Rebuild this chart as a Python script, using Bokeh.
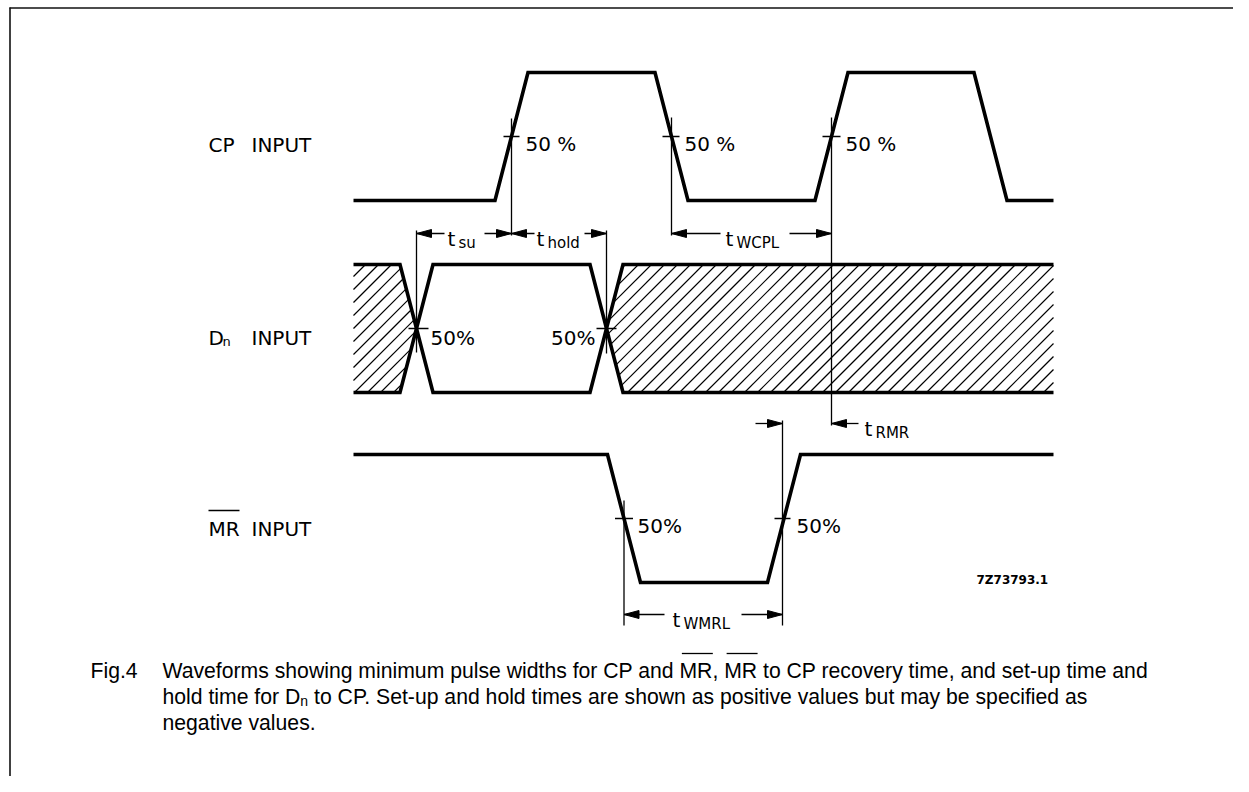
from bokeh.plotting import figure
from bokeh.models import Range1d
from bokeh.embed import file_html
from bokeh.resources import INLINE
from bokeh.core.properties import value

# ---------------- data (diagram time units / logic levels) ----------------
t_start, t_end = 353, 1053
edge_time = 33                       # rise / fall time of every edge
cp_edges = [511, 671, 831, 990]      # 50 % crossing times of CP
cp_init = 0
d_edges = [416, 606]                 # data-valid window (50 % crossings)
mr_edges = [623.5, 783.5]            # 50 % crossing times of MR
mr_init = 1

row_names = ["CP", "D", "MR"]
row_low = [200, 392, 582]            # screen level of logic 0 of each row
amp = 128                            # logic swing on screen

cp_pct = "50 %"
pct = "50%"
drawing_code = "7Z73793.1"
caption_fig = "Fig.4"
caption_1 = "Waveforms showing minimum pulse widths for CP and MR, MR to CP recovery time, and set-up time and"
caption_2a = "hold time for D"
caption_2b = "n"
caption_2c = "to CP. Set-up and hold times are shown as positive values but may be specified as"
caption_3 = "negative values."

FONT = value("DejaVu Sans")
CAPF = value("Liberation Sans")

# Arial / Liberation Sans advance widths (1/1000 em)
AW = {' ': 278, ',': 278, '-': 333, '.': 278, '4': 556, 'A': 667, 'C': 722, 'D': 722, 'F': 611,
      'M': 833, 'P': 667, 'R': 722, 'S': 667, 'W': 944, 'a': 556, 'b': 556, 'c': 500, 'd': 556,
      'e': 556, 'f': 278, 'g': 556, 'h': 556, 'i': 222, 'k': 500, 'l': 222, 'm': 833, 'n': 556,
      'o': 556, 'p': 556, 'r': 333, 's': 500, 't': 278, 'u': 556, 'v': 500, 'w': 722, 'y': 500}


def tw(s, size):
    return sum(AW.get(c, 556) for c in s) * size / 1000.0


def wave(edges, init):
    xs, lv, cur = [t_start], [init], init
    for e in edges:
        xs += [e - edge_time / 2, e + edge_time / 2]
        lv += [cur, 1 - cur]
        cur = 1 - cur
    xs.append(t_end)
    lv.append(cur)
    return xs, lv


def ys(row, levels):
    return [row_low[row] - l * amp for l in levels]


def inside(px, py, x, y):
    n = len(px)
    sgn = 0
    for i in range(n):
        ax, ay, bx, by = px[i], py[i], px[(i + 1) % n], py[(i + 1) % n]
        cr = (bx - ax) * (y - ay) - (by - ay) * (x - ax)
        if abs(cr) < 1e-9:
            continue
        s = 1 if cr > 0 else -1
        if sgn == 0:
            sgn = s
        elif s != sgn:
            return False
    return True


def hatch(px, py, spacing, phase=0.0):
    """45-degree '/' hatch lines (x + y = c) clipped to a convex polygon."""
    x0s, y0s, x1s, y1s = [], [], [], []
    lo = min(a + b for a, b in zip(px, py))
    hi = max(a + b for a, b in zip(px, py))
    c = lo - ((lo - phase) % spacing) + spacing
    ymin, ymax = min(py), max(py)
    while c < hi:
        hit = []
        y = ymin
        while y <= ymax + 1e-9:
            if inside(px, py, c - y, y):
                hit.append(y)
            y += 0.2
        if hit:
            x0s.append(c - hit[0]); y0s.append(hit[0])
            x1s.append(c - hit[-1]); y1s.append(hit[-1])
        c += spacing
    return x0s, y0s, x1s, y1s


W_, H_ = 1233, 776
p = figure(width=W_, height=H_, x_range=Range1d(0, W_), y_range=Range1d(H_, 0),
           output_backend="svg", toolbar_location=None, min_border=0,
           x_axis_type=None, y_axis_type=None, outline_line_color=None)
p.background_fill_color = "white"
p.border_fill_color = "white"

# frame (top and left edges)
p.segment(x0=[9, 9.5], y0=[7.5, 7], x1=[W_, 9.5], y1=[7.5, H_], line_color="#111", line_width=1.6)

# hatched "don't care" areas of D
e1, e2 = d_edges
h = edge_time / 2
polys_x = [[t_start, e1 - h, e1, e1 - h, t_start], [e2, e2 + h, t_end, t_end, e2 + h]]
polys_y = [ys(1, [1, 1, .5, 0, 0]), ys(1, [.5, 1, 1, 0, 0])]
hx0, hy0, hx1, hy1 = [], [], [], []
for px_, py_ in zip(polys_x, polys_y):
    a, b, c_, d_ = hatch(px_, py_, 13.0, phase=5.0)
    hx0 += a; hy0 += b; hx1 += c_; hy1 += d_
p.segment(x0=hx0, y0=hy0, x1=hx1, y1=hy1, line_color="black", line_width=1.15)

# waveforms
cx, cl = wave(cp_edges, cp_init)
dtx, dtl = wave(d_edges, 1)
dbx, dbl = wave(d_edges, 0)
mx, ml = wave(mr_edges, mr_init)
p.multi_line([cx, dtx, dbx, mx], [ys(0, cl), ys(1, dtl), ys(1, dbl), ys(2, ml)],
             line_color="black", line_width=3.6, line_join="miter")

# vertical reference lines at 50 % points
c_mid = [row_low[i] - amp / 2 for i in range(3)]
vx = [cp_edges[0], cp_edges[1], cp_edges[2], d_edges[0], d_edges[1], mr_edges[0], mr_edges[1] - 1.5]
vy0 = [118, 117, 117, 230, 230, 500, 420]
vy1 = [235, 235, 425, 352, 353, 625, 625]
p.segment(x0=vx, y0=vy0, x1=vx, y1=vy1, line_color="black", line_width=1.3)

# 50 % tick marks
tx0 = [cp_edges[0] - 8, cp_edges[1] - 9, cp_edges[2] - 9, d_edges[0] - 8, d_edges[1] - 10,
       mr_edges[0] - 9, mr_edges[1] - 9.5]
tx1 = [cp_edges[0] + 8, cp_edges[1] + 8, cp_edges[2] + 9, d_edges[0] + 12, d_edges[1] + 10,
       mr_edges[0] + 9, mr_edges[1] + 6.5]
ty = [c_mid[0]] * 3 + [c_mid[1]] * 2 + [c_mid[2]] * 2
p.segment(x0=tx0, y0=ty, x1=tx1, y1=ty, line_color="black", line_width=1.5)

# percentage texts
p.text(x=[cp_edges[0] + 14, cp_edges[1] + 13, cp_edges[2] + 14], y=[c_mid[0] + 7] * 3,
       text=[cp_pct] * 3, text_font=FONT, text_font_size="20px", text_color="black",
       text_baseline="alphabetic", text_align="left")
p.text(x=[d_edges[0] + 14, mr_edges[0] + 13.5, mr_edges[1] + 12.5],
       y=[c_mid[1] + 9, c_mid[2] + 7, c_mid[2] + 7],
       text=[pct] * 3, text_font=FONT, text_font_size="20px", text_color="black",
       text_baseline="alphabetic", text_align="left")
p.text(x=[d_edges[1] - 11], y=[c_mid[1] + 9], text=[pct], text_font=FONT, text_font_size="20px",
       text_color="black", text_baseline="alphabetic", text_align="right")

# signal names
p.text(x=[208, 208, 208], y=[144, 337, 528], text=row_names, text_font=FONT, text_font_size="20px",
       text_color="black", text_baseline="alphabetic")
p.text(x=[251, 251, 251], y=[144, 337, 528], text=["INPUT"] * 3, text_font=FONT,
       text_font_size="20px", text_color="black", text_baseline="alphabetic")
p.text(x=[222], y=[341], text=["n"], text_font=FONT, text_font_size="13px", text_color="black",
       text_baseline="alphabetic")
p.segment(x0=[208], y0=[510], x1=[239], y1=[510], line_color="black", line_width=1.4)

# timing dimensions: (left tip, right tip, y, left shaft end, right shaft start, t, sub, t x)
dims = [
    (d_edges[0], cp_edges[0], 233, 444, 484, "t", "su", 447),
    (cp_edges[0], d_edges[1], 233, 534, 584, "t", "hold", 536),
    (cp_edges[1], cp_edges[2], 233, 720, 789, "t", "WCPL", 725),
    (mr_edges[0], mr_edges[1] - 1.5, 614, 664, 741, "t", "WMRL", 672),
]
L, W = 15, 8
sx0, sx1, sy = [], [], []
hxs, hys = [], []
for a, b, y, l_end, r_start, t, sub, tx in dims:
    sx0 += [a, r_start]
    sx1 += [l_end, b]
    sy += [y, y]
    hxs += [[a, a + L, a + L], [b, b - L, b - L]]
    hys += [[y, y - W / 2, y + W / 2], [y, y - W / 2, y + W / 2]]
# t_RMR (arrows pointing inwards from outside)
rm_a, rm_b, rm_y = mr_edges[1] - 1.5, cp_edges[2], 423
sx0 += [rm_a - 27, rm_b]
sx1 += [rm_a, rm_b + 27]
sy += [rm_y, rm_y]
hxs += [[rm_a, rm_a - L, rm_a - L], [rm_b, rm_b + L, rm_b + L]]
hys += [[rm_y, rm_y - W / 2, rm_y + W / 2], [rm_y, rm_y - W / 2, rm_y + W / 2]]
p.segment(x0=sx0, y0=sy, x1=sx1, y1=sy, line_color="black", line_width=1.3)
p.patches(hxs, hys, fill_color="black", line_color="black", line_width=1)

t_x = [d[7] for d in dims] + [rm_b + 33]
t_y = [d[2] + 5 for d in dims] + [rm_y + 5]
sub_x = [d[7] + 11 for d in dims] + [rm_b + 44]
sub_y = [d[2] + 9 for d in dims] + [rm_y + 9]
subs = [d[6] for d in dims] + ["RMR"]
p.text(x=t_x, y=t_y, text=["t"] * len(t_x), text_font=FONT, text_font_size="20px",
       text_color="black", text_baseline="alphabetic")
p.text(x=sub_x, y=sub_y, text=subs, text_font=FONT, text_font_size="15px",
       text_color="black", text_baseline="alphabetic")

# drawing code
p.text(x=[976], y=[579], text=[drawing_code], text_font=FONT, text_font_size="12px",
       text_font_style="bold", text_color="black", text_baseline="alphabetic")

# caption
cs = 21.2
b1, b2, b3 = 670, 696, 722
x0 = 162
p.text(x=[90, x0, x0], y=[b1, b1, b3], text=[caption_fig, caption_1, caption_3], text_font=CAPF,
       text_font_size=f"{cs}px", text_color="black", text_baseline="alphabetic")
p.text(x=[x0], y=[b2], text=[caption_2a], text_font=CAPF, text_font_size=f"{cs}px",
       text_color="black", text_baseline="alphabetic")
nx = x0 + tw(caption_2a, cs)
p.text(x=[nx], y=[b2 + 4], text=[caption_2b], text_font=CAPF, text_font_size="14px",
       text_color="black", text_baseline="alphabetic")
p.text(x=[nx + tw(caption_2b, 14) + tw(" ", cs)], y=[b2], text=[caption_2c], text_font=CAPF,
       text_font_size=f"{cs}px", text_color="black", text_baseline="alphabetic")
# overlines over "MR" in caption line 1
i1 = caption_1.index("MR")
i2 = caption_1.index("MR", i1 + 2)
ox0 = [x0 + tw(caption_1[:i], cs) + 1 for i in (i1, i2)]
ox1 = [x0 + tw(caption_1[:i + 2], cs) - 1 for i in (i1, i2)]
p.segment(x0=ox0, y0=[b1 - 17] * 2, x1=ox1, y1=[b1 - 17] * 2, line_color="black", line_width=1.3)

open("out.html", "w").write(file_html(p, INLINE))
